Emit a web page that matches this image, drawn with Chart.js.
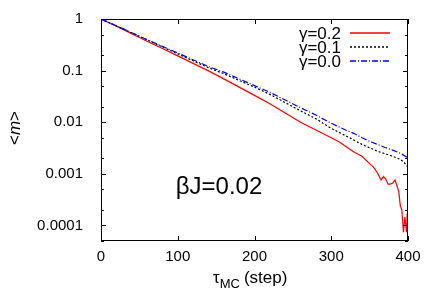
<!DOCTYPE html>
<html>
<head>
<meta charset="utf-8">
<script src="https://cdn.jsdelivr.net/npm/chart.js@4.4.1/dist/chart.umd.min.js"></script>
<style>
  html, body { margin: 0; padding: 0; background: #fff; }
  canvas { display: block; }
</style>
</head>
<body>
<canvas id="decayChart" width="436" height="305"></canvas>
<script>
// magnetisation decay <m> vs MC steps, betaJ = 0.02
const stepsG02 = [0, 20, 40, 60, 80, 100, 120, 140, 160, 180, 200, 220, 240, 260, 280, 300, 310, 320, 330, 340,
                  350, 355, 360, 365, 368, 371, 374, 377, 380, 383, 386, 388, 390, 392, 394, 396, 397, 398, 399, 400];
const mG02 = [1, 0.724, 0.519, 0.372, 0.269, 0.193, 0.138, 0.0989, 0.0692, 0.0479, 0.0331, 0.0229, 0.0151, 0.0100,
              0.00708, 0.00501, 0.00417, 0.00331, 0.00263, 0.00219, 0.00158, 0.00135, 0.00105, 0.000759, 0.000891,
              0.000794, 0.000631, 0.000631, 0.000661, 0.000759, 0.000562, 0.000447, 0.000240, 0.000200, 0.0000741,
              0.000145, 0.000100, 0.0000741, 0.000170, 0.000126];

const stepsG01 = [0, 20, 40, 60, 80, 100, 120, 140, 160, 180, 200, 220, 240, 260, 280, 300, 320, 340, 360, 380, 390, 395, 400];
const mG01 = [1, 0.733, 0.537, 0.394, 0.288, 0.211, 0.155, 0.114, 0.0871, 0.0646, 0.0479, 0.0347, 0.0240, 0.0166,
              0.0117, 0.00759, 0.00537, 0.00372, 0.00275, 0.00219, 0.00191, 0.00166, 0.00135];

const stepsG00 = [0, 20, 40, 60, 80, 100, 120, 140, 160, 180, 200, 220, 240, 260, 280, 300, 310, 320, 330, 340,
                  350, 360, 370, 380, 390, 400];
const mG00 = [1, 0.741, 0.543, 0.398, 0.295, 0.219, 0.162, 0.120, 0.0933, 0.0692, 0.0513, 0.0380, 0.0269, 0.0191,
              0.0138, 0.00955, 0.00813, 0.00692, 0.00603, 0.00501, 0.00427, 0.00372, 0.00324, 0.00288, 0.00251, 0.00204];

const seriesLabels = ['\u03b3=0.2', '\u03b3=0.1', '\u03b3=0.0'];
const xTicks = [0, 100, 200, 300, 400];
const yTicks = [0.0001, 0.001, 0.01, 0.1, 1];
const yTickLabels = ['0.0001', '0.001', '0.01', '0.1', '1'];
const yMinorTicks = [0.00005, 0.0002, 0.0005, 0.002, 0.005, 0.02, 0.05, 0.2, 0.5];

const FONT = '"Liberation Sans", Arial, Helvetica, sans-serif';
const lineColors = ['#ff0000', '#000000', '#0000ff'];
const lineDashes = [[], [2, 2], [6, 2, 1, 2]];

function toPoints(xs, ys) {
    return xs.map((x, i) => ({x: x, y: ys[i]}));
}

// gnuplot-ish frame: box, inward ticks, key, axis titles, annotation
const gnuplotFrame = {
    id: 'gnuplotFrame',
    afterDatasetsDraw(chart) {
        const ctx = chart.ctx;
        const a = chart.chartArea;
        const xs = chart.scales.x;
        const ys = chart.scales.y;
        ctx.save();
        ctx.strokeStyle = '#000';
        ctx.lineWidth = 1;
        ctx.setLineDash([]);
        ctx.strokeRect(a.left + 0.5, a.top + 0.5, a.right - a.left - 1, a.bottom - a.top - 1);

        ctx.beginPath();
        xTicks.forEach(v => {
            const px = Math.round(xs.getPixelForValue(v)) + 0.5;
            ctx.moveTo(px, a.bottom); ctx.lineTo(px, a.bottom - 5);
            ctx.moveTo(px, a.top); ctx.lineTo(px, a.top + 5);
        });
        yTicks.forEach(v => {
            const py = Math.round(ys.getPixelForValue(v)) + 0.5;
            ctx.moveTo(a.left, py); ctx.lineTo(a.left + 5, py);
            ctx.moveTo(a.right, py); ctx.lineTo(a.right - 5, py);
        });
        yMinorTicks.forEach(v => {
            const py = Math.round(ys.getPixelForValue(v)) + 0.5;
            ctx.moveTo(a.left, py); ctx.lineTo(a.left + 3, py);
            ctx.moveTo(a.right, py); ctx.lineTo(a.right - 3, py);
        });
        ctx.stroke();

        // key
        ctx.font = '17px ' + FONT;
        ctx.textAlign = 'right';
        ctx.textBaseline = 'middle';
        seriesLabels.forEach((lab, i) => {
            const yy = a.top + 14 + i * 14;
            ctx.fillStyle = '#000';
            ctx.fillText(lab, a.right - 67, yy + 1);
            ctx.setLineDash(lineDashes[i]);
            ctx.strokeStyle = lineColors[i];
            ctx.lineWidth = 1.5;
            ctx.beginPath();
            ctx.moveTo(a.right - 58, yy);
            ctx.lineTo(a.right - 18, yy);
            ctx.stroke();
        });
        ctx.setLineDash([]);

        // annotation
        ctx.fillStyle = '#000';
        ctx.textAlign = 'left';
        ctx.textBaseline = 'alphabetic';
        ctx.font = '24px ' + FONT;
        ctx.fillText('\u03b2J=0.02', xs.getPixelForValue(100) - 2, 194);

        // x title with subscript
        ctx.font = '17px ' + FONT;
        let tx = 213;
        ctx.fillText('\u03c4', tx, 283);
        tx += ctx.measureText('\u03c4').width;
        ctx.font = '13px ' + FONT;
        ctx.fillText('MC', tx, 288);
        tx += ctx.measureText('MC').width + 4;
        ctx.font = '17px ' + FONT;
        ctx.fillText('(step)', tx, 283);

        // y title
        ctx.save();
        ctx.translate(20, 128);
        ctx.rotate(-Math.PI / 2);
        ctx.font = '17px ' + FONT;
        const w1 = ctx.measureText('<').width;
        ctx.font = 'italic 17px ' + FONT;
        const w2 = ctx.measureText('m').width;
        let sx = -(w1 * 2 + w2) / 2;
        ctx.textAlign = 'left';
        ctx.font = '17px ' + FONT;
        ctx.fillText('<', sx, 0);
        ctx.font = 'italic 17px ' + FONT;
        ctx.fillText('m', sx + w1, 0);
        ctx.font = '17px ' + FONT;
        ctx.fillText('>', sx + w1 + w2, 0);
        ctx.restore();

        ctx.restore();
    }
};

const ctx = document.getElementById('decayChart').getContext('2d');
const decayChart = new Chart(ctx, {
    type: 'line',
    data: {
        datasets: [{
            label: seriesLabels[0],
            data: toPoints(stepsG02, mG02),
            borderColor: lineColors[0],
            borderDash: lineDashes[0],
            order: 2
        }, {
            label: seriesLabels[1],
            data: toPoints(stepsG01, mG01),
            borderColor: lineColors[1],
            borderDash: lineDashes[1],
            order: 1
        }, {
            label: seriesLabels[2],
            data: toPoints(stepsG00, mG00),
            borderColor: lineColors[2],
            borderDash: lineDashes[2],
            order: 0
        }]
    },
    options: {
        responsive: false,
        animation: false,
        events: [],
        layout: {
            padding: {left: 0, right: 28, top: 18, bottom: 0}
        },
        elements: {
            point: {radius: 0},
            line: {borderWidth: 1.2, tension: 0, fill: false}
        },
        plugins: {
            legend: {display: false},
            tooltip: {enabled: false}
        },
        scales: {
            x: {
                type: 'linear',
                min: 0,
                max: 400,
                grid: {display: false, drawTicks: false, tickLength: 0},
                border: {display: false},
                afterBuildTicks: scale => { scale.ticks = xTicks.map(v => ({value: v})); },
                afterFit: scale => { scale.height = 64; },
                ticks: {
                    autoSkip: false,
                    maxRotation: 0,
                    padding: 7,
                    color: '#000',
                    font: {family: FONT, size: 15}
                }
            },
            y: {
                type: 'logarithmic',
                min: 0.00005,
                max: 1,
                grid: {display: false},
                border: {display: false},
                afterBuildTicks: scale => { scale.ticks = yTicks.map(v => ({value: v, major: true})); },
                afterFit: scale => { scale.width = 101; },
                ticks: {
                    autoSkip: false,
                    padding: 10,
                    color: '#000',
                    font: {family: FONT, size: 15},
                    callback: (value, index) => yTickLabels[index]
                }
            }
        }
    },
    plugins: [gnuplotFrame]
});
</script>
</body>
</html>
